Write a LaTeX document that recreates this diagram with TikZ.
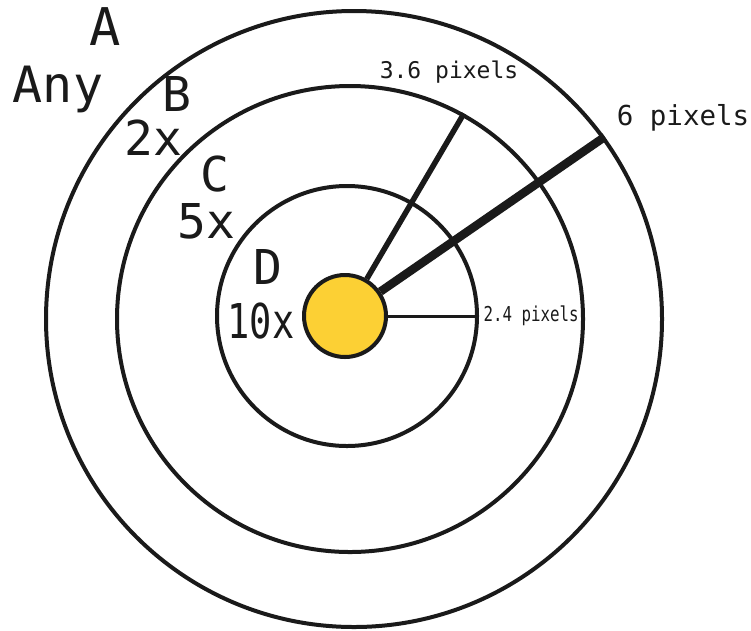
\documentclass[tikz,border=0pt]{standalone}
\usepackage{fontspec}
\setmainfont{DejaVu Sans Mono}
\usepackage{graphicx}
\usepackage{tikz}
\usetikzlibrary{positioning}
\definecolor{blackLine}{RGB}{26,26,26}
\definecolor{yellowCore}{RGB}{252,208,52}

\begin{document}
\begin{tikzpicture}[x=1pt,y=-1pt,
  ring/.style={circle,draw=blackLine,line width=4pt,inner sep=0pt},
  zone/.style={inner sep=0pt,anchor=base,text=blackLine,font=\fontsize{48}{50}\selectfont},
  size/.style={inner sep=0pt,anchor=base,text=blackLine},
  radius/.style={draw=blackLine,line cap=butt}]

  \useasboundingbox (0,0) rectangle (751,630);

  \node[ring,minimum size=616pt] (RB) at (354,319) {};
  \node[ring,minimum size=466pt] (RC) at (350,319) {};
  \node[ring,minimum size=260pt] (RD) at (347,316) {};
  \node[ring,fill=yellowCore,minimum size=82pt] (CTR) at (345,316) {};

  \draw[radius,line width=8.5pt] (CTR)--(RB.36);
  \draw[radius,line width=5.5pt] (CTR)--(RC.61);
  \draw[radius,line width=3pt] (CTR.east)--(RD.east)
    node[right,inner sep=3pt,text=blackLine,font=\fontsize{20.5}{22}\selectfont]{\scalebox{0.77}[1]{2.4 pixels}};

  \node[zone,font=\fontsize{52}{54}\selectfont] (A) at (105,45) {A};
  \node[zone,font=\fontsize{50}{52}\selectfont] (ANY) at (58,102) {Any};
  \node[zone] (B) at (177,111) {B};
  \node[zone] (B2) at (153,155) {2x};
  \node[zone] (C) at (215,191) {C};
  \node[zone] (C5) at (206,238) {5x};
  \node[zone] (D) at (268,284) {D};
  \node[zone] (D10) at (261,338) {\scalebox{0.77}[1]{10x}};

  \node[size,font=\fontsize{23}{25}\selectfont] (L36) at (449,78) {3.6 pixels};
  \node[size,font=\fontsize{27.5}{29}\selectfont] (L6) at (683,125) {6 pixels};
\end{tikzpicture}
\end{document}
